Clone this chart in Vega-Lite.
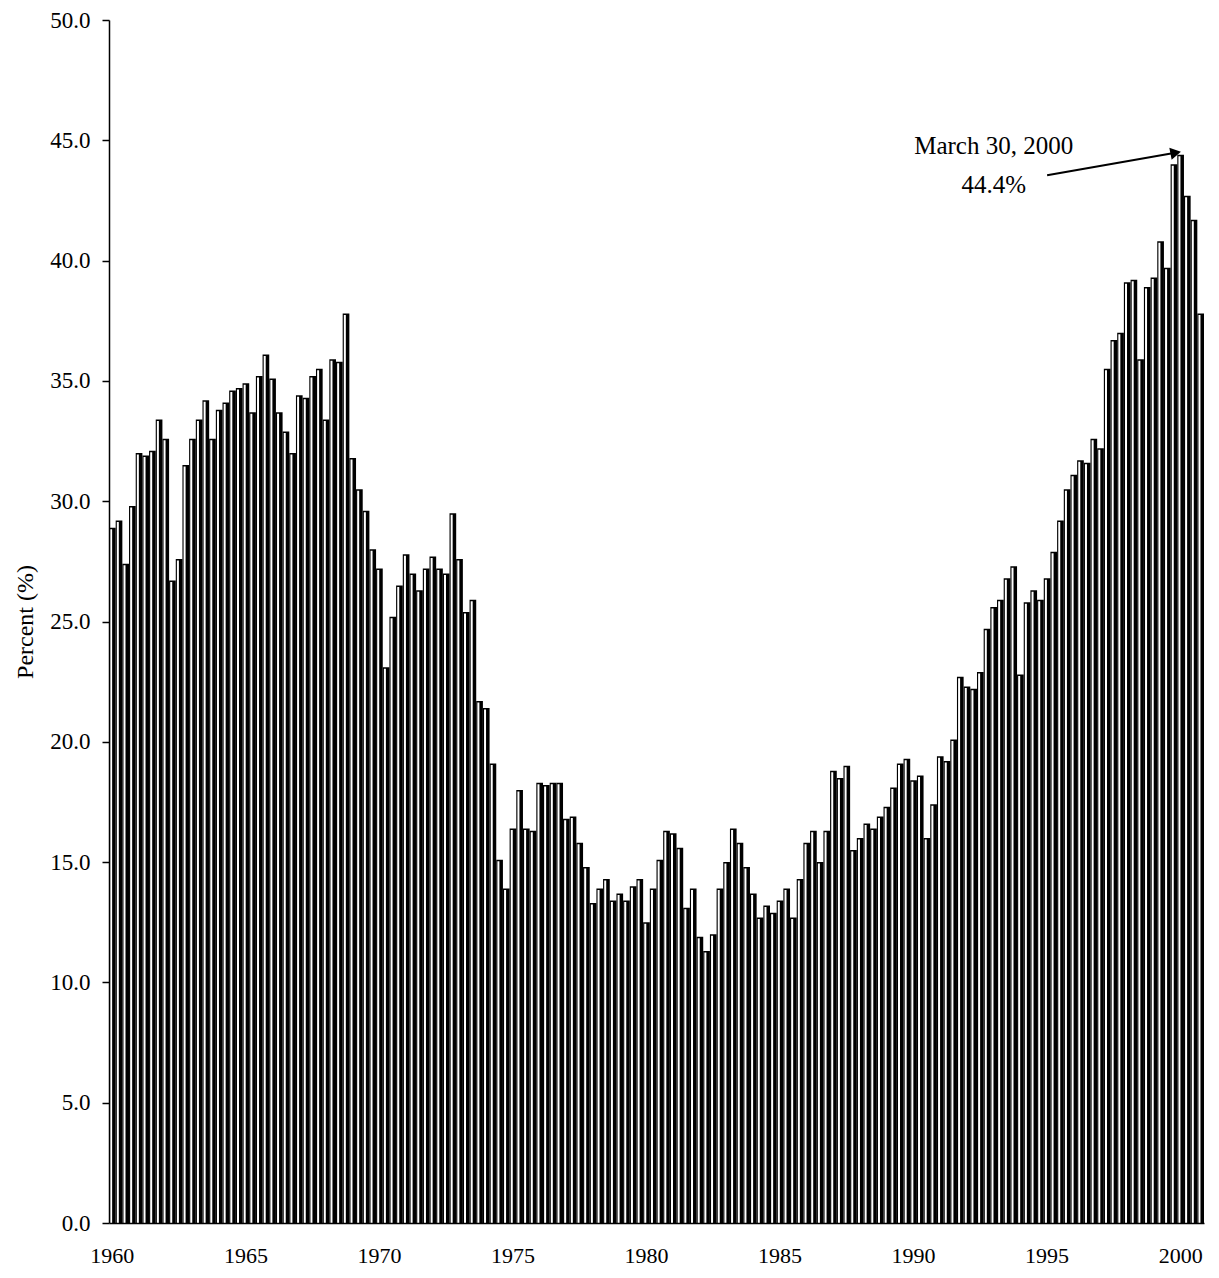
{
  "$schema": "https://vega.github.io/schema/vega-lite/v6.json",
  "autosize": "none",
  "width": 1095,
  "height": 1203,
  "padding": {"left": 109, "top": 20, "right": 15, "bottom": 55},
  "background": "white",
  "config": {
    "view": {"stroke": null},
    "font": "Liberation Serif",
    "axis": {"labelFont": "Liberation Serif", "titleFont": "Liberation Serif", "labelColor": "black", "titleColor": "black", "domainColor": "black", "tickColor": "black", "grid": false}
  },
  "datasets": {
    "main": [
      {"q":"1960Q1","v":28.9},{"q":"1960Q2","v":29.2},{"q":"1960Q3","v":27.4},{"q":"1960Q4","v":29.8},
      {"q":"1961Q1","v":32.0},{"q":"1961Q2","v":31.9},{"q":"1961Q3","v":32.1},{"q":"1961Q4","v":33.4},
      {"q":"1962Q1","v":32.6},{"q":"1962Q2","v":26.7},{"q":"1962Q3","v":27.6},{"q":"1962Q4","v":31.5},
      {"q":"1963Q1","v":32.6},{"q":"1963Q2","v":33.4},{"q":"1963Q3","v":34.2},{"q":"1963Q4","v":32.6},
      {"q":"1964Q1","v":33.8},{"q":"1964Q2","v":34.1},{"q":"1964Q3","v":34.6},{"q":"1964Q4","v":34.7},
      {"q":"1965Q1","v":34.9},{"q":"1965Q2","v":33.7},{"q":"1965Q3","v":35.2},{"q":"1965Q4","v":36.1},
      {"q":"1966Q1","v":35.1},{"q":"1966Q2","v":33.7},{"q":"1966Q3","v":32.9},{"q":"1966Q4","v":32.0},
      {"q":"1967Q1","v":34.4},{"q":"1967Q2","v":34.3},{"q":"1967Q3","v":35.2},{"q":"1967Q4","v":35.5},
      {"q":"1968Q1","v":33.4},{"q":"1968Q2","v":35.9},{"q":"1968Q3","v":35.8},{"q":"1968Q4","v":37.8},
      {"q":"1969Q1","v":31.8},{"q":"1969Q2","v":30.5},{"q":"1969Q3","v":29.6},{"q":"1969Q4","v":28.0},
      {"q":"1970Q1","v":27.2},{"q":"1970Q2","v":23.1},{"q":"1970Q3","v":25.2},{"q":"1970Q4","v":26.5},
      {"q":"1971Q1","v":27.8},{"q":"1971Q2","v":27.0},{"q":"1971Q3","v":26.3},{"q":"1971Q4","v":27.2},
      {"q":"1972Q1","v":27.7},{"q":"1972Q2","v":27.2},{"q":"1972Q3","v":27.0},{"q":"1972Q4","v":29.5},
      {"q":"1973Q1","v":27.6},{"q":"1973Q2","v":25.4},{"q":"1973Q3","v":25.9},{"q":"1973Q4","v":21.7},
      {"q":"1974Q1","v":21.4},{"q":"1974Q2","v":19.1},{"q":"1974Q3","v":15.1},{"q":"1974Q4","v":13.9},
      {"q":"1975Q1","v":16.4},{"q":"1975Q2","v":18.0},{"q":"1975Q3","v":16.4},{"q":"1975Q4","v":16.3},
      {"q":"1976Q1","v":18.3},{"q":"1976Q2","v":18.2},{"q":"1976Q3","v":18.3},{"q":"1976Q4","v":18.3},
      {"q":"1977Q1","v":16.8},{"q":"1977Q2","v":16.9},{"q":"1977Q3","v":15.8},{"q":"1977Q4","v":14.8},
      {"q":"1978Q1","v":13.3},{"q":"1978Q2","v":13.9},{"q":"1978Q3","v":14.3},{"q":"1978Q4","v":13.4},
      {"q":"1979Q1","v":13.7},{"q":"1979Q2","v":13.4},{"q":"1979Q3","v":14.0},{"q":"1979Q4","v":14.3},
      {"q":"1980Q1","v":12.5},{"q":"1980Q2","v":13.9},{"q":"1980Q3","v":15.1},{"q":"1980Q4","v":16.3},
      {"q":"1981Q1","v":16.2},{"q":"1981Q2","v":15.6},{"q":"1981Q3","v":13.1},{"q":"1981Q4","v":13.9},
      {"q":"1982Q1","v":11.9},{"q":"1982Q2","v":11.3},{"q":"1982Q3","v":12.0},{"q":"1982Q4","v":13.9},
      {"q":"1983Q1","v":15.0},{"q":"1983Q2","v":16.4},{"q":"1983Q3","v":15.8},{"q":"1983Q4","v":14.8},
      {"q":"1984Q1","v":13.7},{"q":"1984Q2","v":12.7},{"q":"1984Q3","v":13.2},{"q":"1984Q4","v":12.9},
      {"q":"1985Q1","v":13.4},{"q":"1985Q2","v":13.9},{"q":"1985Q3","v":12.7},{"q":"1985Q4","v":14.3},
      {"q":"1986Q1","v":15.8},{"q":"1986Q2","v":16.3},{"q":"1986Q3","v":15.0},{"q":"1986Q4","v":16.3},
      {"q":"1987Q1","v":18.8},{"q":"1987Q2","v":18.5},{"q":"1987Q3","v":19.0},{"q":"1987Q4","v":15.5},
      {"q":"1988Q1","v":16.0},{"q":"1988Q2","v":16.6},{"q":"1988Q3","v":16.4},{"q":"1988Q4","v":16.9},
      {"q":"1989Q1","v":17.3},{"q":"1989Q2","v":18.1},{"q":"1989Q3","v":19.1},{"q":"1989Q4","v":19.3},
      {"q":"1990Q1","v":18.4},{"q":"1990Q2","v":18.6},{"q":"1990Q3","v":16.0},{"q":"1990Q4","v":17.4},
      {"q":"1991Q1","v":19.4},{"q":"1991Q2","v":19.2},{"q":"1991Q3","v":20.1},{"q":"1991Q4","v":22.7},
      {"q":"1992Q1","v":22.3},{"q":"1992Q2","v":22.2},{"q":"1992Q3","v":22.9},{"q":"1992Q4","v":24.7},
      {"q":"1993Q1","v":25.6},{"q":"1993Q2","v":25.9},{"q":"1993Q3","v":26.8},{"q":"1993Q4","v":27.3},
      {"q":"1994Q1","v":22.8},{"q":"1994Q2","v":25.8},{"q":"1994Q3","v":26.3},{"q":"1994Q4","v":25.9},
      {"q":"1995Q1","v":26.8},{"q":"1995Q2","v":27.9},{"q":"1995Q3","v":29.2},{"q":"1995Q4","v":30.5},
      {"q":"1996Q1","v":31.1},{"q":"1996Q2","v":31.7},{"q":"1996Q3","v":31.6},{"q":"1996Q4","v":32.6},
      {"q":"1997Q1","v":32.2},{"q":"1997Q2","v":35.5},{"q":"1997Q3","v":36.7},{"q":"1997Q4","v":37.0},
      {"q":"1998Q1","v":39.1},{"q":"1998Q2","v":39.2},{"q":"1998Q3","v":35.9},{"q":"1998Q4","v":38.9},
      {"q":"1999Q1","v":39.3},{"q":"1999Q2","v":40.8},{"q":"1999Q3","v":39.7},{"q":"1999Q4","v":44.0},
      {"q":"2000Q1","v":44.4},{"q":"2000Q2","v":42.7},{"q":"2000Q3","v":41.7},{"q":"2000Q4","v":37.8}
    ],
    "ann": [
      {"q":"1993Q1","v":44.75,"t":"March 30, 2000"},
      {"q":"1993Q1","v":43.15,"t":"44.4%"}
    ],
    "arrow": [
      {"q":"1995Q1","q2":"1999Q4","v":43.55,"v2":44.47}
    ]
  },
  "layer": [
    {
      "data": {"name": "main"},
      "mark": {"type": "bar", "fill": "black", "stroke": null},
      "encoding": {
        "x": {"field": "q", "type": "ordinal", "sort": null,
          "scale": {"paddingInner": 0, "paddingOuter": 0},
          "axis": {"title": null, "ticks": false, "labelAngle": 0, "labelFontSize": 22, "labelPadding": 22, "domainWidth": 1.5,
            "values": ["1960Q1","1965Q1","1970Q1","1975Q1","1980Q1","1985Q1","1990Q1","1995Q1","2000Q1"],
            "labelExpr": "slice(datum.value, 0, 4)", "zindex": 1}},
        "y": {"field": "v", "type": "quantitative",
          "scale": {"domain": [0, 50], "nice": false, "zero": true},
          "axis": {"title": "Percent (%)", "titleFontSize": 24, "titleFontWeight": "normal", "titlePadding": 12,
            "values": [0,5,10,15,20,25,30,35,40,45,50], "format": ".1f", "labelFontSize": 23, "labelPadding": 12,
            "tickSize": 7, "domainWidth": 1.5, "tickWidth": 1.5, "zindex": 1}}
      }
    },
    {
      "data": {"name": "main"},
      "mark": {"type": "bar", "fill": "white", "stroke": null, "width": {"band": 0.3}, "xOffset": -1.2, "yOffset": 1.5},
      "encoding": {
        "x": {"field": "q", "type": "ordinal", "sort": null},
        "y": {"field": "v", "type": "quantitative"}
      }
    },
    {
      "data": {"name": "ann"},
      "mark": {"type": "text", "font": "Liberation Serif", "fontSize": 25, "color": "black", "align": "center", "baseline": "middle"},
      "encoding": {
        "x": {"field": "q", "type": "ordinal", "sort": null},
        "y": {"field": "v", "type": "quantitative"},
        "text": {"field": "t"}
      }
    },
    {
      "data": {"name": "arrow"},
      "mark": {"type": "rule", "color": "black", "strokeWidth": 2},
      "encoding": {
        "x": {"field": "q", "type": "ordinal", "sort": null},
        "x2": {"field": "q2"},
        "y": {"field": "v", "type": "quantitative"},
        "y2": {"field": "v2"}
      }
    },
    {
      "data": {"name": "arrow"},
      "mark": {"type": "point", "shape": "triangle", "filled": true, "color": "black", "size": 150, "angle": 79, "opacity": 1},
      "encoding": {
        "x": {"field": "q2", "type": "ordinal", "sort": null},
        "y": {"field": "v2", "type": "quantitative"}
      }
    }
  ]
}
